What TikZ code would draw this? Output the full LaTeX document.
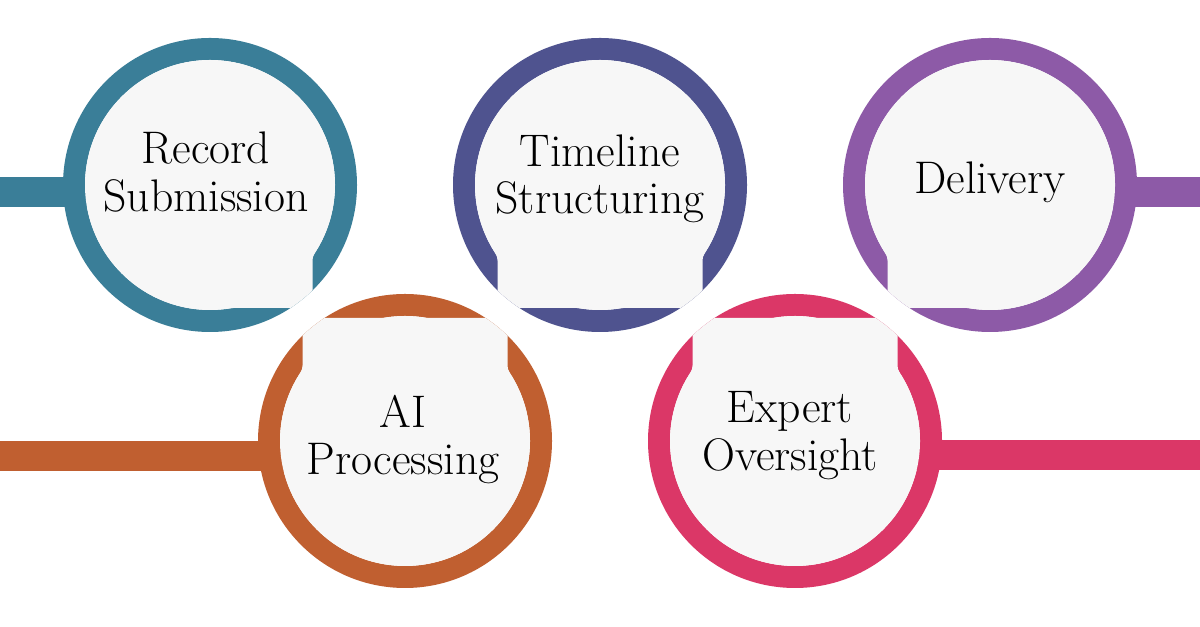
\documentclass[tikz,border=0pt]{standalone}
\definecolor{recblue}{HTML}{3A7E98}
\definecolor{aiorange}{HTML}{C05F30}
\definecolor{timeindigo}{HTML}{4F538F}
\definecolor{exppink}{HTML}{DB3767}
\definecolor{delpurple}{HTML}{8D5AA7}
\definecolor{discgray}{HTML}{F7F7F7}
% square gray corner of a disc towards its neighbour: #1 centre, #2/#3 side (+1/-1)
\newcommand\bubneck[3]{%
    \begin{scope}[shift={(#1)}, xscale=#2, yscale=#3]
        \clip (0,0) circle (2.94);
        \fill[discgray] (0,0) -- (2.0909,1.3705)
            arc[start angle=213.2, end angle=180, radius=0.25]
            -- (2.05,2.46) -- (0.4673,2.46)
            arc[start angle=270, end angle=260.2, radius=0.25] -- cycle;
    \end{scope}}
\begin{document}
\begin{tikzpicture}[ring/.style={draw=#1, line width=0.44cm},
    bar/.style={draw=#1, line width=0.6cm},
    stagetext/.style={align=center, font=\fontsize{26}{27}\selectfont}]
    \useasboundingbox (0,0) rectangle (24,12.54);
    \fill[white] (0,0) rectangle (24,12.54);
    \coordinate (rec) at (4.2,8.84);
    \coordinate (ai) at (8.1,3.72);
    \coordinate (time) at (12.0,8.84);
    \coordinate (exp) at (15.9,3.72);
    \coordinate (del) at (19.8,8.84);
    \coordinate (recend) at (0,8.7);
    \coordinate (aiend) at (0,3.42);
    \coordinate (expend) at (24,3.44);
    \coordinate (delend) at (24,8.7);
    % bars
    \draw[bar=recblue] (recend) -- (rec |- recend);
    \draw[bar=aiorange] (aiend) -- (ai |- aiend);
    \draw[bar=exppink] (expend) -- (exp |- expend);
    \draw[bar=delpurple] (delend) -- (del |- delend);
    % rings
    \draw[ring=recblue] (rec) circle (2.72);
    \draw[ring=aiorange] (ai) circle (2.72);
    \draw[ring=timeindigo] (time) circle (2.72);
    \draw[ring=exppink] (exp) circle (2.72);
    \draw[ring=delpurple] (del) circle (2.72);
    % discs
    \foreach \c in {rec, ai, time, exp, del}
        \fill[discgray] (\c) circle (2.5);
    \bubneck{rec}{1}{-1}
    \bubneck{ai}{-1}{1}
    \bubneck{ai}{1}{1}
    \bubneck{time}{-1}{-1}
    \bubneck{time}{1}{-1}
    \bubneck{exp}{-1}{1}
    \bubneck{exp}{1}{1}
    \bubneck{del}{-1}{-1}
    % texts
    \node[stagetext] (rectext) at (4.12,9.1) {Record\\Submission};
    \node[stagetext] (aitext) at (8.06,3.75) {AI\\Processing};
    \node[stagetext] (timetext) at (12.0,8.96) {Timeline\\Structuring};
    \node[stagetext] (exptext) at (15.8,3.83) {Expert\\Oversight};
    \node[stagetext] (deltext) at (19.8,8.9) {Delivery};
\end{tikzpicture}
\end{document}
